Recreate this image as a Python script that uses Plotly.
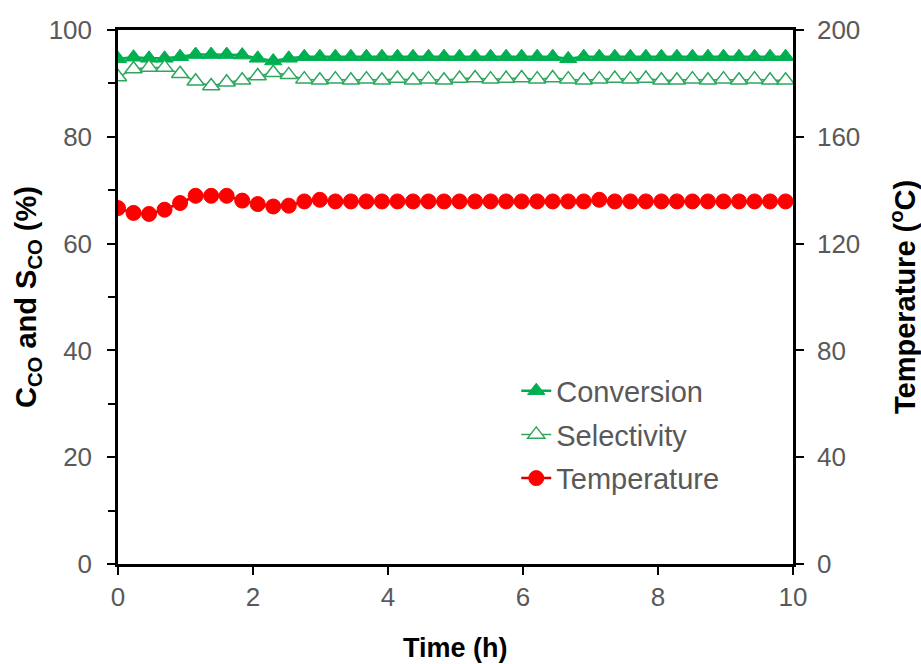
import plotly.graph_objects as go

# Time on stream (h)
time_h = [0.00, 0.23, 0.46, 0.69, 0.92, 1.15, 1.38, 1.61, 1.84, 2.07,
          2.30, 2.53, 2.76, 2.99, 3.22, 3.45, 3.68, 3.91, 4.14, 4.37,
          4.60, 4.83, 5.06, 5.29, 5.52, 5.75, 5.98, 6.21, 6.44, 6.67,
          6.90, 7.13, 7.36, 7.59, 7.82, 8.05, 8.28, 8.51, 8.74, 8.97,
          9.20, 9.43, 9.66, 9.89]

# CO conversion (%)
conversion = [94.6, 94.9, 94.7, 94.7, 95.0, 95.4, 95.4, 95.4, 95.3, 94.7,
              94.2, 94.7, 95.0, 95.0, 95.0, 95.0, 95.0, 95.0, 95.0, 95.0,
              95.0, 95.0, 95.0, 95.0, 95.0, 95.0, 95.0, 95.0, 95.0, 94.6,
              95.0, 95.0, 95.0, 95.0, 95.0, 95.0, 95.0, 95.0, 95.0, 95.0,
              95.0, 95.0, 95.0, 95.0]

# CO selectivity (%)
selectivity = [91.2, 92.7, 93.0, 93.0, 91.8, 90.4, 89.5, 90.2, 90.6, 91.4,
               92.0, 91.6, 90.8, 90.6, 90.8, 90.6, 90.8, 90.6, 90.9, 90.6,
               90.8, 90.6, 90.9, 91.0, 90.8, 90.9, 91.0, 90.8, 91.0, 90.8,
               90.6, 90.8, 90.9, 90.8, 90.9, 90.6, 90.6, 90.8, 90.6, 90.8,
               90.6, 90.8, 90.6, 90.6]

# Reactor temperature (degC)
temperature = [133.3, 131.5, 131.1, 132.7, 135.2, 137.9, 137.9, 137.9, 136.1, 134.8,
               133.9, 134.2, 135.8, 136.4, 135.8, 135.8, 135.8, 135.8, 135.8, 135.8,
               135.8, 135.8, 135.8, 135.8, 135.8, 135.8, 135.8, 135.8, 135.8, 135.8,
               135.8, 136.4, 135.8, 135.8, 135.8, 135.8, 135.8, 135.8, 135.8, 135.8,
               135.8, 135.8, 135.8, 135.8]

# Axis titles
x_title = "<b>Time (h)</b>"
y_title = "<b>C<sub>CO</sub> and S<sub>CO</sub> (%)</b>"
y2_title = "<b>Temperature (<sup>o</sup>C)</b>"

GREEN = "#00B050"
SEL_GREEN = "#2EA65E"
RED = "#FF0000"
FONT = "Liberation Sans, Arial, sans-serif"
TICK_GRAY = "#595959"

W, H = 921, 664
ML, MR, MT, MB = 118, 128, 30, 100

fig = go.Figure()

fig.add_trace(go.Scatter(
    x=time_h, y=conversion, name="Conversion", mode="lines+markers",
    line=dict(color=GREEN, width=2.5),
    marker=dict(symbol="triangle-up", size=15, color=GREEN,
                line=dict(color=GREEN, width=1)),
    legendgroup="a",
))
fig.add_trace(go.Scatter(
    x=time_h, y=selectivity, name="Selectivity", mode="lines+markers",
    line=dict(color=SEL_GREEN, width=1.5),
    marker=dict(symbol="triangle-up", size=15, color="white",
                line=dict(color=SEL_GREEN, width=1.5)),
    legendgroup="b",
))
fig.add_trace(go.Scatter(
    x=time_h, y=temperature, name="Temperature", mode="lines+markers",
    line=dict(color="#D00000", width=2.5),
    marker=dict(symbol="circle", size=15, color=RED,
                line=dict(color=RED, width=1)),
    yaxis="y2", legendgroup="c",
))

axis_common = dict(
    showline=True, linecolor="black", linewidth=2.5,
    ticks="outside", tickcolor="black", tickwidth=2, ticklen=8,
    showgrid=False, zeroline=False, automargin=False,
    tickfont=dict(family=FONT, size=26, color=TICK_GRAY),
)

# Axis titles placed as paper-anchored annotations (pixel offsets from the plot area)
pw, ph = W - ML - MR, H - MT - MB


def px_x(px):
    return (px - ML) / pw


def px_y(py):
    return (H - MB - py) / ph


annotations = [
    dict(text=x_title, x=px_x(455), y=px_y(648), xref="paper", yref="paper",
         showarrow=False, xanchor="center", yanchor="middle",
         font=dict(family=FONT, size=27, color="black")),
    dict(text=y_title, x=px_x(28), y=px_y(297), xref="paper", yref="paper",
         showarrow=False, xanchor="center", yanchor="middle", textangle=-90,
         font=dict(family=FONT, size=29, color="black")),
    dict(text=y2_title, x=px_x(903), y=px_y(297), xref="paper", yref="paper",
         showarrow=False, xanchor="center", yanchor="middle", textangle=-90,
         font=dict(family=FONT, size=29, color="black")),
]

fig.update_layout(
    width=W, height=H,
    margin=dict(l=ML, r=MR, t=MT, b=MB),
    paper_bgcolor="white", plot_bgcolor="white",
    font=dict(family=FONT),
    xaxis=dict(range=[0, 10], dtick=2, mirror=True, **axis_common),
    yaxis=dict(
        range=[0, 100], dtick=20, ticklabelstandoff=10,
        minor=dict(dtick=10, ticks="outside", ticklen=7, tickcolor="black", tickwidth=2),
        **axis_common,
    ),
    yaxis2=dict(
        range=[0, 200], dtick=40, overlaying="y", side="right", ticklabelstandoff=8,
        **axis_common,
    ),
    legend=dict(
        x=0.59, y=0.372, xanchor="left", yanchor="top",
        bgcolor="rgba(0,0,0,0)",
        font=dict(family=FONT, size=29, color=TICK_GRAY),
        traceorder="grouped", tracegroupgap=3,
    ),
    annotations=annotations,
    showlegend=True,
)

fig.write_html("out.html")
